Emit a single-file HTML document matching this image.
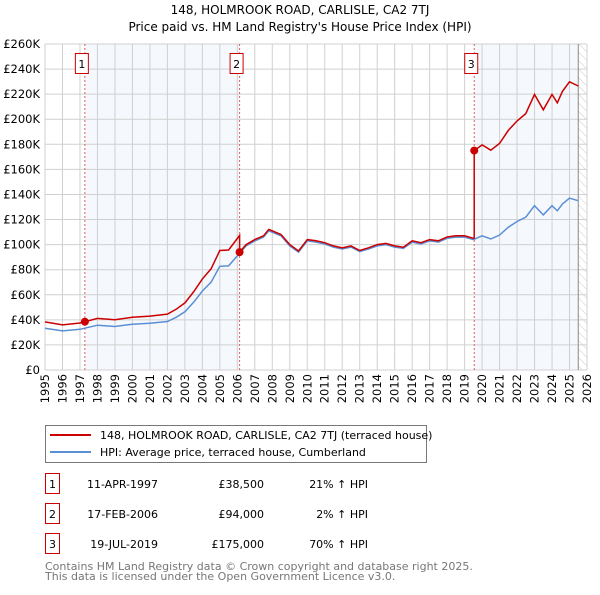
<!DOCTYPE html>
<html><head><meta charset="utf-8"><style>
body{margin:0;background:#fff;font-family:"Liberation Sans","DejaVu Sans",sans-serif;}
svg text{font-family:"DejaVu Sans","Liberation Sans",sans-serif;}
</style></head><body>
<svg id="chart" width="600" height="590" xmlns="http://www.w3.org/2000/svg">
<text x="300" y="14" text-anchor="middle" font-size="12" fill="#000">148, HOLMROOK ROAD, CARLISLE, CA2 7TJ</text>
<text x="300" y="31" text-anchor="middle" font-size="12" fill="#000">Price paid vs. HM Land Registry's House Price Index (HPI)</text>
<g id="plot"></g>
<g>
<rect x="45.5" y="425.5" width="381" height="37" fill="#fff" stroke="#777"/>
<line x1="50" y1="435" x2="91" y2="435" stroke="#cc0000" stroke-width="2"/>
<text x="100" y="439" font-size="11">148, HOLMROOK ROAD, CARLISLE, CA2 7TJ (terraced house)</text>
<line x1="50" y1="452" x2="91" y2="452" stroke="#5b8fd4" stroke-width="2"/>
<text x="100" y="456" font-size="11">HPI: Average price, terraced house, Cumberland</text>
</g>
<g id="table" font-size="11"></g>
<text x="45" y="570" font-size="11" fill="#777">Contains HM Land Registry data © Crown copyright and database right 2025.</text>
<text x="45" y="580" font-size="11" fill="#777">This data is licensed under the Open Government Licence v3.0.</text>
</svg>
<script>
const hpiYears=[1995,1996,1997,1998,1999,2000,2001,2002,2002.5,2003,2003.5,2004,2004.5,2005,2005.5,2006,2006.5,2007,2007.5,2007.8,2008.5,2009,2009.5,2010,2010.5,2011,2011.5,2012,2012.5,2013,2013.5,2014,2014.5,2015,2015.5,2016,2016.5,2017,2017.5,2018,2018.5,2019,2019.5,2020,2020.5,2021,2021.5,2022,2022.5,2023,2023.5,2024,2024.3,2024.6,2025,2025.5];
const hpiValues=[33.3,31.2,32.5,35.7,34.7,36.5,37.3,38.7,42,46.4,54,63,70,82.7,83,91,99,103,106,111,107,99,94,103,102,100.5,98,96.5,98,94.4,96.5,99,100,98,97,102,100.5,103,102,105,106,106,104,107,104.5,107.7,113.9,118.4,121.9,131,123.7,131,127,132.5,137,135];
const saleLabels=["1","2","3"];
const saleDates=[1997.28,2006.13,2019.55];
const salePrices=[38.5,94,175];
const saleDateText=["11-APR-1997","17-FEB-2006","19-JUL-2019"];
const salePriceText=["£38,500","£94,000","£175,000"];
const saleHpiText=["21% ↑ HPI","2% ↑ HPI","70% ↑ HPI"];
const yTicks=[0,20,40,60,80,100,120,140,160,180,200,220,240,260];
const xTicks=[1995,1996,1997,1998,1999,2000,2001,2002,2003,2004,2005,2006,2007,2008,2009,2010,2011,2012,2013,2014,2015,2016,2017,2018,2019,2020,2021,2022,2023,2024,2025,2026];

const NS="http://www.w3.org/2000/svg";
const X0=45,X1=587,Y0=370,Y1=44;
const sx=t=>X0+(t-1995)/(2026-1995)*(X1-X0);
const sy=v=>Y0-v/260*(Y0-Y1);
const plot=document.getElementById('plot');
function mk(tag,attrs,parent){const e=document.createElementNS(NS,tag);for(const k in attrs)e.setAttribute(k,attrs[k]);(parent||plot).appendChild(e);return e;}
function hpiAt(t){for(let i=0;i<hpiYears.length-1;i++){if(t<=hpiYears[i+1]){const f=(t-hpiYears[i])/(hpiYears[i+1]-hpiYears[i]);return hpiValues[i]+f*(hpiValues[i+1]-hpiValues[i]);}}return hpiValues[hpiValues.length-1];}
const dataEnd=hpiYears[hpiYears.length-1];
const sh1=mk('rect',{x:sx(saleDates[0]),y:Y1,width:sx(saleDates[1])-sx(saleDates[0]),height:Y0-Y1,fill:'#eef3fc',opacity:0.6});


const sh2=mk('rect',{x:sx(saleDates[2]),y:Y1,width:sx(dataEnd)-sx(saleDates[2]),height:Y0-Y1,fill:'#eef3fc',opacity:0.6});


const defs=mk('defs',{});
const pat=mk('pattern',{id:'hatch',width:6,height:6,patternUnits:'userSpaceOnUse',patternTransform:'rotate(-45)'},defs);
mk('line',{x1:0,y1:0,x2:0,y2:6,stroke:'#ccc','stroke-width':1},pat);
const hr=mk('rect',{x:sx(dataEnd),y:Y1,width:X1-sx(dataEnd),height:Y0-Y1,fill:'url(#hatch)'});


yTicks.forEach(v=>{
 mk('line',{x1:X0,x2:X1,y1:sy(v),y2:sy(v),stroke:'#d0d0d0','stroke-width':1});
 const t=mk('text',{x:X0-5,y:sy(v)+4,'text-anchor':'end','font-size':11.5,fill:'#000'});t.textContent='£'+(v===0?'0':v+'K');
 
 
});
xTicks.forEach(y=>{
 mk('line',{x1:sx(y),x2:sx(y),y1:Y1,y2:Y0,stroke:'#d0d0d0','stroke-width':1});
 const t=mk('text',{x:sx(y)+4,y:Y0+4,'text-anchor':'end','font-size':11.5,fill:'#000',transform:`rotate(-90 ${sx(y)+4} ${Y0+4})`});t.textContent=y;
 
 
});
mk('line',{x1:sx(dataEnd),x2:sx(dataEnd),y1:Y1,y2:Y0,stroke:'#888','stroke-width':1});
saleDates.forEach((d,i)=>{
 mk('line',{x1:sx(d),x2:sx(d),y1:Y1,y2:Y0,stroke:'#e06060','stroke-width':1,'stroke-dasharray':'2,2'});
 const g=mk('g',{});
 
 
 mk('rect',{x:sx(d)-9.5,y:53.5,width:13,height:20,fill:'#fff',stroke:'#cc0000'},g);
 const t=mk('text',{x:sx(d)-3,y:68,'text-anchor':'middle','font-size':11},g);t.textContent=saleLabels[i];
});
let p='';hpiYears.forEach((y,i)=>{p+=(i?'L':'M')+sx(y).toFixed(1)+','+sy(hpiValues[i]).toFixed(1);});
const hl=mk('path',{d:p,fill:'none',stroke:'#5b8fd4','stroke-width':1.5});


const ratios=saleDates.map((d,i)=>salePrices[i]/hpiAt(d));
function ratioAt(t){let r=ratios[0];for(let i=0;i<saleDates.length;i++)if(t>=saleDates[i])r=ratios[i];return r;}
let ts=hpiYears.slice();saleDates.forEach(d=>ts.push(d-0.001,d));ts.sort((a,b)=>a-b);
let rp='';ts.forEach((t,i)=>{rp+=(i?'L':'M')+sx(t).toFixed(1)+','+sy(hpiAt(t)*ratioAt(t)).toFixed(1);});
const rl=mk('path',{d:rp,fill:'none',stroke:'#cc0000','stroke-width':1.5});


saleDates.forEach((d,i)=>{
 const c=mk('circle',{cx:sx(d),cy:sy(salePrices[i]),r:4,fill:'#cc0000'});
 
 
});
const tb=document.getElementById('table');
saleLabels.forEach((l,i)=>{
 const y=488+i*30;
 const g=mk('g',{},tb);
 
 
 mk('rect',{x:45.5,y:y-14.5,width:14,height:20,fill:'#fff',stroke:'#cc0000'},g);
 let t=mk('text',{x:52.5,y:y,'text-anchor':'middle'},g);t.textContent=l;
 t=mk('text',{x:158,y:y,'text-anchor':'end'},g);t.textContent=saleDateText[i];
 t=mk('text',{x:264,y:y,'text-anchor':'end'},g);t.textContent=salePriceText[i];
 t=mk('text',{x:368,y:y,'text-anchor':'end'},g);t.textContent=saleHpiText[i];
});
</script>
</body></html>
